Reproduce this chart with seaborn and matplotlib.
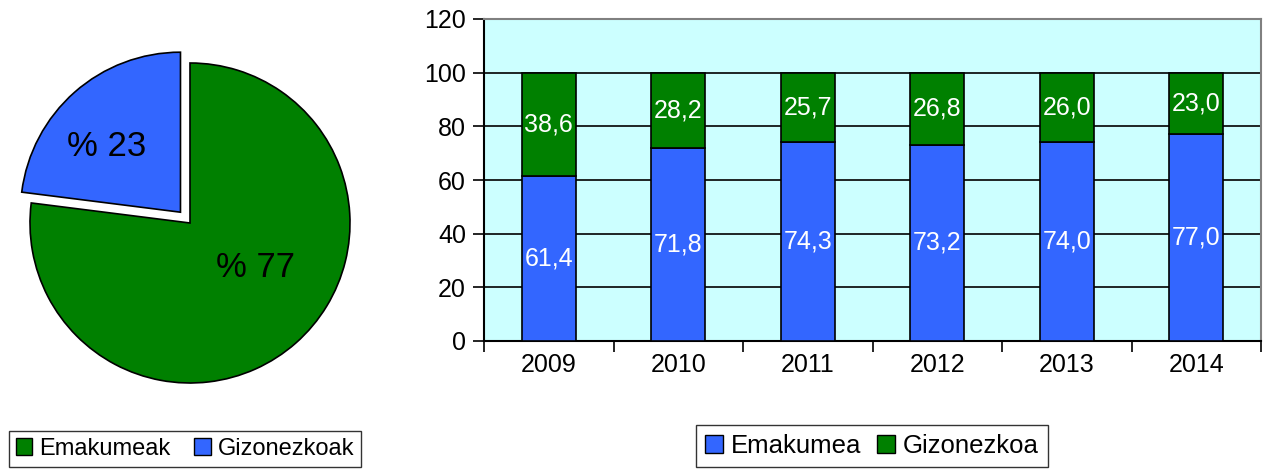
import numpy as np
import seaborn as sns
import matplotlib.pyplot as plt
from matplotlib.patches import Patch

sns.set_style('white')
plt.rcParams['font.family'] = ['Liberation Sans', 'DejaVu Sans']
plt.rcParams['text.color'] = 'black'
plt.rcParams['xtick.color'] = 'black'
plt.rcParams['ytick.color'] = 'black'

# datuak
years = ['2009', '2010', '2011', '2012', '2013', '2014']
emakumea = np.array([61.4, 71.8, 74.3, 73.2, 74.0, 77.0])
gizonezkoa = np.array([38.6, 28.2, 25.7, 26.8, 26.0, 23.0])

pie_values = [23, 77]

blue = '#3366FF'
green = '#008000'

fig = plt.figure(figsize=(12.68, 4.70), dpi=100)

# Tarta
ax1 = fig.add_axes([0, 1 - 420 / 470, 380 / 1268, 390 / 470])
wedges, texts, autotexts = ax1.pie(pie_values, colors=[blue, green], startangle=90,
                                   explode=[0.09, 0], autopct=lambda p: '% ' + str(int(round(p))),
                                   pctdistance=0.62,
                                   wedgeprops=dict(edgecolor='black', linewidth=1.2),
                                   textprops=dict(fontsize=25, color='black'))
autotexts[0].set_position((-0.52, 0.48))
autotexts[1].set_position((0.41, -0.28))
ax1.set_aspect('auto')
ax1.set_xlim(-190 / 160, 190 / 160)
ax1.set_ylim(-197 / 160, 193 / 160)
ax1.axis('off')
fig.legend(handles=[Patch(facecolor=green, edgecolor='black', label='Emakumeak'),
                    Patch(facecolor=blue, edgecolor='black', label='Gizonezkoak')],
           loc='center', bbox_to_anchor=(185 / 1268, 1 - 449 / 470), ncol=2, fontsize=17,
           frameon=True, fancybox=False, edgecolor='black', handlelength=0.7, handleheight=0.7,
           handletextpad=0.3, columnspacing=1.0, borderpad=0.3)

# Barrak
ax2 = fig.add_axes([484 / 1268, 1 - 341 / 470, 777 / 1268, 322 / 470])
ax2.set_facecolor('#CCFFFF')
sns.barplot(x=years, y=emakumea, color=blue, width=0.42, edgecolor='black', linewidth=1.2,
            saturation=1, ax=ax2, zorder=3)
sns.barplot(x=years, y=gizonezkoa, bottom=emakumea, color=green, width=0.42, edgecolor='black',
            linewidth=1.2, saturation=1, ax=ax2, zorder=3)
ax2.bar_label(ax2.containers[0], labels=[f'{v:.1f}'.replace('.', ',') for v in emakumea],
              label_type='center', color='white', fontsize=18)
ax2.bar_label(ax2.containers[1], labels=[f'{v:.1f}'.replace('.', ',') for v in gizonezkoa],
              label_type='center', color='white', fontsize=18)
ax2.set_ylim(0, 120)
ax2.set_yticks(range(0, 121, 20))
ax2.set_xlim(-0.5, 5.5)
ax2.set_xticks(np.arange(-0.5, 6, 1))
ax2.set_xticklabels([])
ax2.set_xticks(range(6), years, minor=True)
ax2.tick_params(axis='x', which='minor', length=0, labelsize=18, pad=9)
ax2.tick_params(axis='x', which='major', length=8, width=1.2, direction='out', bottom=True)
ax2.tick_params(axis='y', length=8, width=1.2, direction='out', left=True, labelsize=18, pad=5)
ax2.grid(axis='y', color='black', linewidth=1.2, zorder=0)
ax2.set_axisbelow(True)
for s in ['left', 'bottom']:
    ax2.spines[s].set_color('black')
    ax2.spines[s].set_linewidth(1.5)
for s in ['top', 'right']:
    ax2.spines[s].set_color('gray')
    ax2.spines[s].set_linewidth(1.5)
ax2.set_xlabel('')
ax2.set_ylabel('')
fig.legend(handles=[Patch(facecolor=blue, edgecolor='black', label='Emakumea'),
                    Patch(facecolor=green, edgecolor='black', label='Gizonezkoa')],
           loc='center', bbox_to_anchor=(872 / 1268, 1 - 446 / 470), ncol=2, fontsize=18.5,
           frameon=True, fancybox=False, edgecolor='black', handlelength=0.7, handleheight=0.7,
           handletextpad=0.3, columnspacing=0.6, borderpad=0.35)

fig.savefig('out.png', dpi=100)
